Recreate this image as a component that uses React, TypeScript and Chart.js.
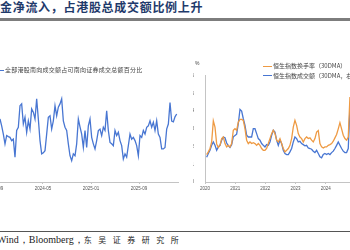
import React, { useEffect, useRef } from 'react';
import { Chart, registerables } from 'chart.js';

Chart.register(...registerables);

const TITLE = '金净流入，占港股总成交额比例上升';
const SOURCE_LATIN = 'Wind，Bloomberg，';
const SOURCE_CJK = '东吴证券研究所';

// Left chart: southbound share (%), months counted from 2023-09
const LEFT_LEGEND = '全部港股南向成交额占可南向证券成交总额百分比';
const LEFT_TICK_MONTHS = [0, 8, 16, 24];
const LEFT_TICK_LABELS = ['2023-09', '2024-05', '2025-01', '2025-09'];
const LEFT_START_MONTH = 0.833;
const LEFT_STEP_MONTH = 0.2778;
const leftShare = [
  27.5, 25.6, 23.3, 20.6, 22.9, 22.6, 22.4, 21.5, 21.9, 16.9,
  24.3, 25.2, 31.2, 31.7, 26.1, 28.0, 23.8, 27.0, 24.7, 30.3,
  29.4, 27.5, 33.1, 27.5, 21.5, 17.8, 18.1, 18.7, 23.3, 28.0,
  28.4, 24.7, 27.0, 31.2, 28.4, 30.8, 31.7, 33.1, 27.0, 25.2,
  24.3, 20.6, 17.3, 15.9, 17.8, 17.3, 20.6, 27.5, 25.3, 23.3,
  19.6, 24.3, 19.6, 25.6, 27.5, 22.4, 20.6, 19.2, 21.5, 24.3,
  24.7, 22.9, 25.2, 24.3, 29.8, 24.3, 21.0, 20.6, 20.1, 24.3,
  22.9, 23.8, 21.5, 20.1, 16.4, 17.8, 16.9, 20.1, 23.3, 21.9,
  22.4, 21.5, 20.1, 17.3, 22.9, 22.4, 24.3, 23.3, 25.2, 25.6,
  27.0, 25.2, 26.6, 24.3, 27.0, 23.3, 22.4, 19.2, 19.2, 19.6,
  24.7, 26.1, 32.1, 26.9, 26.7, 28.1, 28.9,
];

// Right chart: HSI turnover rate (%, left axis) and HSI turnover (right axis)
const RIGHT_LEGEND_RATE = '恒生指数换手率（30DMA）';
const RIGHT_LEGEND_VALUE = '恒生指数成交额（30DMA，右轴）';
const RIGHT_UNIT = '%';
const RIGHT_YEARS = [2020, 2021, 2022, 2023, 2024, 2025];
const RIGHT_YEAR_LABELS = ['2020', '2021', '2022', '2023', '2024', '2025'];
const RIGHT_START_YEAR = 2020.055;
const RIGHT_STEP_YEAR = 0.0552;
const hsiTurnoverRate = [
  0.155, 0.170, 0.189, 0.226, 0.345, 0.310, 0.215, 0.195, 0.207, 0.245,
  0.254, 0.217, 0.198, 0.207, 0.198, 0.217, 0.292, 0.301, 0.292, 0.338,
  0.353, 0.353, 0.348, 0.301, 0.236, 0.217, 0.226, 0.217, 0.222, 0.217,
  0.207, 0.217, 0.207, 0.189, 0.179, 0.179, 0.189, 0.217, 0.245, 0.273,
  0.292, 0.273, 0.236, 0.226, 0.245, 0.217, 0.189, 0.170, 0.179, 0.189,
  0.207, 0.245, 0.310, 0.348, 0.320, 0.273, 0.254, 0.245, 0.226, 0.245,
  0.254, 0.245, 0.249, 0.236, 0.226, 0.245, 0.282, 0.290, 0.217, 0.198,
  0.192, 0.198, 0.198, 0.207, 0.211, 0.217, 0.230, 0.249, 0.268, 0.300,
  0.335, 0.300, 0.264, 0.245, 0.236, 0.254, 0.480,
];
const hsiTurnoverValue = [
  140, 161, 179, 207, 226, 207, 179, 198, 207, 236,
  254, 250, 220, 205, 195, 210, 255, 262, 270, 330,
  410, 400, 357, 320, 264, 254, 254, 254, 301, 301,
  273, 245, 236, 217, 207, 198, 211, 207, 226, 264,
  292, 282, 236, 207, 236, 217, 179, 161, 155, 155,
  170, 189, 226, 254, 245, 226, 230, 217, 211, 204,
  207, 192, 189, 185, 174, 166, 179, 161, 142, 136,
  155, 161, 155, 161, 155, 166, 174, 189, 207, 226,
  207, 189, 174, 166, 166, 189, 420,
];

const BLUE = '#4876D2';
const ORANGE = '#EE9A43';
const AXIS = '#c4c4c4';
const TICK_TEXT = '#555555';
const TICK_FONT = { size: 4.5, family: 'Liberation Sans' };
const CJK = '"Noto Sans CJK SC", sans-serif';

function LeftChart() {
  const ref = useRef<HTMLCanvasElement>(null);
  useEffect(() => {
    const chart = new Chart(ref.current as HTMLCanvasElement, {
      type: 'line',
      data: {
        datasets: [
          {
            label: LEFT_LEGEND,
            data: leftShare.map((v, i) => ({ x: LEFT_START_MONTH + i * LEFT_STEP_MONTH, y: v })),
            borderColor: BLUE,
            backgroundColor: BLUE,
            borderWidth: 1.3,
            pointRadius: 0,
            tension: 0,
            fill: false,
          },
        ],
      },
      options: {
        animation: false,
        responsive: false,
        maintainAspectRatio: false,
        layout: { padding: { left: 12, right: 2, top: 14, bottom: 0 } },
        plugins: { legend: { display: false }, tooltip: { enabled: false } },
        scales: {
          x: {
            type: 'linear',
            min: -0.5,
            max: 30.5,
            afterBuildTicks: (s: any) => {
              s.ticks = LEFT_TICK_MONTHS.map((v) => ({ value: v }));
            },
            afterFit: (s: any) => {
              s.height = 12;
            },
            ticks: {
              autoSkip: false,
              maxRotation: 0,
              padding: 2,
              color: TICK_TEXT,
              font: TICK_FONT,
              callback: (v: any) => {
                const k = LEFT_TICK_MONTHS.indexOf(Number(v));
                return k >= 0 ? LEFT_TICK_LABELS[k] : '';
              },
            },
            grid: { display: true, drawOnChartArea: false, tickLength: 2, color: AXIS },
            border: { display: true, color: AXIS },
          },
          y: { display: false, min: 10, max: 40 },
        },
      },
    } as any);
    return () => chart.destroy();
  }, []);
  return (
    <canvas
      ref={ref}
      width={200}
      height={134}
      style={{ position: 'absolute', left: -20, top: 60, width: 200, height: 134 }}
    />
  );
}

function RightChart() {
  const ref = useRef<HTMLCanvasElement>(null);
  useEffect(() => {
    const chart = new Chart(ref.current as HTMLCanvasElement, {
      type: 'line',
      data: {
        datasets: [
          {
            label: RIGHT_LEGEND_RATE,
            data: hsiTurnoverRate.map((v, i) => ({ x: RIGHT_START_YEAR + i * RIGHT_STEP_YEAR, y: v })),
            borderColor: ORANGE,
            backgroundColor: ORANGE,
            borderWidth: 1.3,
            pointRadius: 0,
            tension: 0,
            yAxisID: 'y',
          },
          {
            label: RIGHT_LEGEND_VALUE,
            data: hsiTurnoverValue.map((v, i) => ({ x: RIGHT_START_YEAR + i * RIGHT_STEP_YEAR, y: v })),
            borderColor: BLUE,
            backgroundColor: BLUE,
            borderWidth: 1.3,
            pointRadius: 0,
            tension: 0,
            yAxisID: 'y1',
          },
        ],
      },
      options: {
        animation: false,
        responsive: false,
        maintainAspectRatio: false,
        layout: { padding: { left: 0, right: 0, top: 5, bottom: 0 } },
        plugins: { legend: { display: false }, tooltip: { enabled: false } },
        scales: {
          x: {
            type: 'linear',
            min: 2020,
            max: 2025.6,
            afterBuildTicks: (s: any) => {
              s.ticks = RIGHT_YEARS.map((v) => ({ value: v }));
            },
            afterFit: (s: any) => {
              s.height = 12;
            },
            ticks: {
              autoSkip: false,
              maxRotation: 0,
              padding: 2,
              color: TICK_TEXT,
              font: TICK_FONT,
              callback: (v: any) => {
                const k = RIGHT_YEARS.indexOf(Number(v));
                return k >= 0 ? RIGHT_YEAR_LABELS[k] : '';
              },
            },
            grid: { display: true, drawOnChartArea: false, tickLength: 2, color: AXIS },
            border: { display: true, color: AXIS },
          },
          y: {
            min: 0,
            max: 0.6,
            afterFit: (s: any) => {
              s.width = 12;
            },
            ticks: {
              stepSize: 0.1,
              padding: 3,
              color: TICK_TEXT,
              font: TICK_FONT,
              callback: (v: any) => (Number(v) === 0 ? '0' : Number(v).toFixed(1)),
            },
            grid: { display: false },
            border: { display: true, color: AXIS },
          },
          y1: { display: false, position: 'right', min: 0, max: 600 },
        },
      },
    } as any);
    return () => chart.destroy();
  }, []);
  return (
    <canvas
      ref={ref}
      width={181}
      height={124}
      style={{ position: 'absolute', left: 193, top: 70, width: 181, height: 124 }}
    />
  );
}

export default function App() {
  const legendText: React.CSSProperties = {
    position: 'absolute',
    fontFamily: CJK,
    fontSize: 6,
    lineHeight: '8px',
    color: '#444',
    whiteSpace: 'nowrap',
  };
  return (
    <div
      style={{
        position: 'fixed',
        left: 0,
        top: 0,
        width: 350,
        height: 250,
        overflow: 'hidden',
        background: '#ffffff',
      }}
    >
      <div
        style={{
          position: 'absolute',
          left: 0,
          top: 0,
          fontFamily: CJK,
          fontWeight: 700,
          fontSize: 12,
          lineHeight: '13px',
          letterSpacing: 0.7,
          color: '#1F3A6B',
          whiteSpace: 'nowrap',
        }}
      >
        {TITLE}
      </div>
      <div style={{ position: 'absolute', left: 0, top: 18, width: 350, height: 3, background: '#7d7d7d' }} />

      <LeftChart />
      <RightChart />

      <div style={{ position: 'absolute', left: -5, top: 69.5, width: 9, height: 1.4, background: BLUE }} />
      <div style={{ ...legendText, left: 5, top: 66, letterSpacing: 0.25 }}>{LEFT_LEGEND}</div>

      <div style={{ ...legendText, left: 195, top: 59, fontSize: 5, fontFamily: 'Liberation Sans' }}>{RIGHT_UNIT}</div>
      <div style={{ position: 'absolute', left: 263, top: 65.5, width: 9, height: 1.4, background: ORANGE }} />
      <div style={{ ...legendText, left: 273, top: 62 }}>{RIGHT_LEGEND_RATE}</div>
      <div style={{ position: 'absolute', left: 263, top: 75, width: 9, height: 1.4, background: BLUE }} />
      <div style={{ ...legendText, left: 273, top: 71.5 }}>{RIGHT_LEGEND_VALUE}</div>

      <div style={{ position: 'absolute', left: 0, top: 231, width: 350, height: 1, background: '#555' }} />
      <div
        style={{
          position: 'absolute',
          left: -3,
          top: 233,
          whiteSpace: 'nowrap',
          fontSize: 10,
          lineHeight: '13px',
          color: '#222',
        }}
      >
        <span style={{ fontFamily: '"Liberation Serif", serif' }}>{SOURCE_LATIN}</span>
        <span style={{ fontFamily: CJK, fontSize: 8, letterSpacing: 6.5 }}>{SOURCE_CJK}</span>
      </div>
    </div>
  );
}
